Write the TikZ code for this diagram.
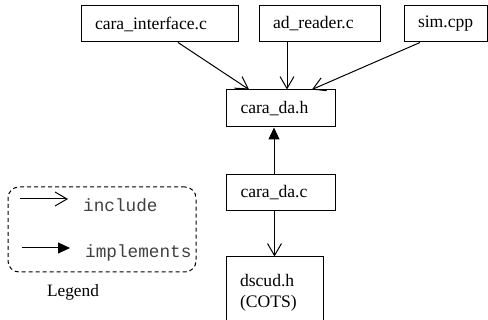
\documentclass[tikz,border=0pt]{standalone}
\usepackage{fontspec}
\setmainfont{Liberation Serif}
\newfontfamily\codefont{Liberation Mono}
\usetikzlibrary{arrows.meta}
\begin{document}
\begin{tikzpicture}[x=1pt,y=-1pt,
  box/.style={draw,line width=1pt,rectangle,inner xsep=14pt,inner ysep=0pt,align=left,font=\fontsize{17.6}{21}\selectfont},
  inc/.style={line width=1pt,-{Straight Barb[length=12pt,width=14pt,line width=1pt]}},
  impl/.style={line width=1pt,-{Triangle[length=12pt,width=11pt]}},
  code/.style={font=\codefont\fontsize{17.7}{20}\selectfont,text=black!75,inner sep=0pt,anchor=base west},
  legendbox/.style={draw,line width=1pt,dashed,dash pattern=on 4pt off 3pt,rounded corners=11pt}
]
\useasboundingbox (0,0) rectangle (488,320);
\clip (0,0) rectangle (488,320);
% boxes
\node[box,minimum width=157pt,minimum height=36pt,text width=129pt] (ci) at (159.5,24) {cara\_interface.c};
\node[box,minimum width=121pt,minimum height=36pt,text width=93pt] (ar) at (319.5,24) {ad\_reader.c};
\node[box,minimum width=83pt,minimum height=36pt,text width=55pt] (sim) at (445.5,24) {sim.cpp};
\node[box,minimum width=109pt,minimum height=37pt,text width=80pt] (cdh) at (280.5,108.5) {cara\_da.h};
\node[box,minimum width=109pt,minimum height=36pt,text width=80pt] (cdc) at (280.5,193) {cara\_da.c};
\node[box,minimum width=97pt,minimum height=72pt,text width=69pt] (dscud) at (274.5,293) {dscud.h\\(COTS)};
% connectors
\draw[inc] ([xshift=18.5pt]ci.south) -- ([xshift=-31.5pt]cdh.north);
\draw[inc] ([xshift=-32.5pt]ar.south) -- ([xshift=6.5pt]cdh.north);
\draw[inc] ([xshift=-25.5pt]sim.south) -- ([xshift=31.5pt]cdh.north);
\draw[impl] ([xshift=-6.5pt]cdc.north) -- ([xshift=-6.5pt]cdh.south);
\draw[inc] (dscud.north |- cdc.south) -- (dscud.north);
% legend
\node[legendbox,minimum width=188pt,minimum height=85pt,inner sep=0pt] (leg) at (102,229.5) {};
\coordinate (i1) at (20,199);
\coordinate (i2) at (68,199);
\coordinate (m1) at (22,248);
\coordinate (m2) at (70,248);
\draw[inc] (i1) -- (i2);
\draw[impl] (m1) -- (m2);
\node[code] (inctext) at (83,211.5) {include};
\node[code] (impltext) at (85,257.5) {implements};
\node[font=\fontsize{17.3}{21}\selectfont,inner sep=0pt] (legtext) at (73,292) {Legend};
\end{tikzpicture}
\end{document}
